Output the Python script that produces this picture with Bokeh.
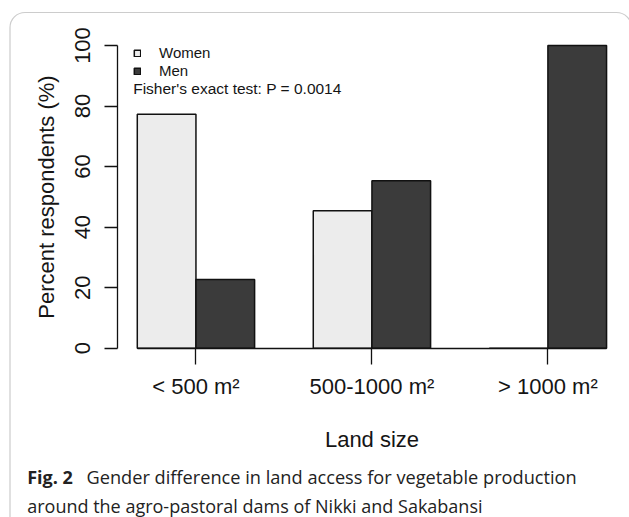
from bokeh.plotting import figure
from bokeh.models import (ColumnDataSource, Range1d, FixedTicker, Legend, LegendItem,
                          Label, BoxAnnotation)
from bokeh.embed import file_html
from bokeh.resources import INLINE

# ---- data ----
categories = ["< 500 m\u00b2", "500-1000 m\u00b2", "> 1000 m\u00b2"]
women = [77.3, 45.4, 0.0]
men = [22.7, 55.3, 100.0]
series_names = ["Women", "Men"]
y_ticks = [0, 20, 40, 60, 80, 100]
y_label = "Percent respondents (%)"
x_label = "Land size"
test_text = "Fisher's exact test: P = 0.0014"
caption_bold = "Fig. 2"
caption_line1 = "Gender difference in land access for vegetable production"
caption_line2 = "around the agro-pastoral dams of Nikki and Sakabansi"

# R barplot(beside=TRUE) layout: bar width 1, space 1 between groups
centers = [2 + 3 * i for i in range(len(categories))]
src = ColumnDataSource(dict(
    xw=[c - 0.5 for c in centers],
    xm=[c + 0.5 for c in centers],
    women=women, men=men,
))

W, H = 629, 517
FONT = "Liberation Sans"
TXT = "#151515"

p = figure(width=W, height=H, output_backend="svg", toolbar_location=None,
           title=None,
           x_range=Range1d(-1.332, 9.391), y_range=Range1d(-55.93, 114.87),
           min_border=0)
p.outline_line_color = None
p.grid.visible = False
p.background_fill_color = "white"
p.border_fill_color = "white"

rw = p.vbar(x="xw", top="women", bottom=0, width=1.0, source=src,
            fill_color="#ECECEC", line_color="#111111", line_width=1.5)
rm = p.vbar(x="xm", top="men", bottom=0, width=1.0, source=src,
            fill_color="#3B3B3B", line_color="#111111", line_width=1.5)

# y axis (R style: line only from 0 to 100)
ya = p.yaxis[0]
ya.fixed_location = 0.66
ya.ticker = FixedTicker(ticks=y_ticks)
ya.bounds = (0, 100)
ya.major_tick_in = 0
ya.major_tick_out = 13
ya.minor_tick_line_color = None
ya.axis_line_width = 1.3
ya.major_tick_line_width = 1.3
ya.axis_line_color = "#111111"
ya.major_tick_line_color = "#111111"
ya.major_label_orientation = "vertical"
ya.major_label_text_font = FONT
ya.major_label_text_font_size = "22px"
ya.major_label_text_color = TXT
ya.major_label_standoff = 14
ya.axis_label = y_label
ya.axis_label_text_font = FONT
ya.axis_label_text_font_size = "22px"
ya.axis_label_text_font_style = "normal"
ya.axis_label_text_color = TXT
ya.axis_label_standoff = 14

# x axis at y = 0
xa = p.xaxis[0]
xa.fixed_location = 0
xa.ticker = FixedTicker(ticks=centers)
xa.major_label_overrides = {c: lab for c, lab in zip(centers, categories)}
xa.bounds = (1, 9)
xa.major_tick_in = 0
xa.major_tick_out = 16
xa.minor_tick_line_color = None
xa.axis_line_width = 1.3
xa.major_tick_line_width = 1.3
xa.axis_line_color = "#111111"
xa.major_tick_line_color = "#111111"
xa.major_label_text_font = FONT
xa.major_label_text_font_size = "22px"
xa.major_label_text_color = TXT
xa.major_label_standoff = 10
xa.axis_label = x_label
xa.axis_label_text_font = FONT
xa.axis_label_text_font_size = "22px"
xa.axis_label_text_font_style = "normal"
xa.axis_label_text_color = TXT
xa.axis_label_standoff = 24

# legend (location = bottom-left corner, screen px from bottom-left)
legend = Legend(items=[LegendItem(label=series_names[0], renderers=[rw]),
                       LegendItem(label=series_names[1], renderers=[rm])],
                location=(133, H - 79.5), margin=0, padding=0, spacing=0,
                glyph_width=8, glyph_height=8, label_height=18, label_standoff=18,
                label_text_font=FONT, label_text_font_size="15px",
                label_text_color=TXT, border_line_color=None,
                background_fill_alpha=0)
p.add_layout(legend)

p.add_layout(Label(x=132.7, y=H - 88.3, x_units="screen", y_units="screen", text=test_text,
                   text_font=FONT, text_font_size="15.5px", text_color=TXT,
                   text_baseline="middle", text_align="left"))

# caption
CAP = "Open Sans"
CAPC = "#222222"
p.add_layout(Label(x=26.7, y=H - 476, x_units="screen", y_units="screen", text=caption_bold,
                   text_font=CAP, text_font_size="18px", text_font_style="bold",
                   text_color=CAPC, text_baseline="middle"))
p.add_layout(Label(x=86, y=H - 476, x_units="screen", y_units="screen", text=caption_line1,
                   text_font=CAP, text_font_size="18.2px", text_color=CAPC,
                   text_baseline="middle"))
p.add_layout(Label(x=26.7, y=H - 505, x_units="screen", y_units="screen", text=caption_line2,
                   text_font=CAP, text_font_size="18px", text_color=CAPC,
                   text_baseline="middle"))

# card border
p.add_layout(BoxAnnotation(left=9.5, right=W + 2, top=H - 12, bottom=-20,
                           left_units="screen", right_units="screen",
                           top_units="screen", bottom_units="screen",
                           fill_alpha=0, line_color="#555555", line_width=1.2,
                           border_radius=15, level="underlay"))

open("out.html", "w").write(file_html(p, INLINE))
